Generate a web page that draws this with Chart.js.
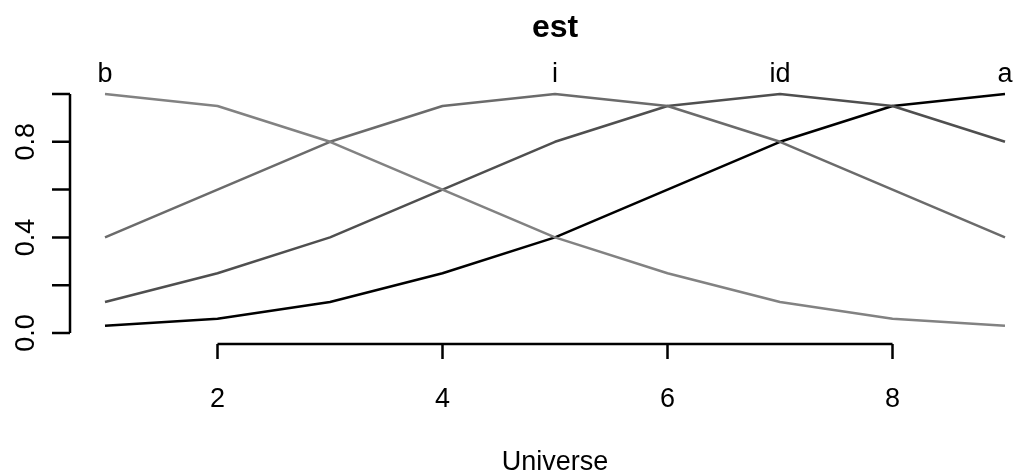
<!DOCTYPE html>
<html>
<head>
<meta charset="utf-8">
<script src="https://cdn.jsdelivr.net/npm/chart.js@4"></script>
<style>
  html, body { margin: 0; padding: 0; background: #ffffff; }
  #wrap { width: 1015px; height: 473px; }
</style>
</head>
<body>
<div id="wrap"><canvas id="est-chart" width="1015" height="473"></canvas></div>
<script>
// universe and membership grades of each fuzzy set
var universe = [1, 2, 3, 4, 5, 6, 7, 8, 9];
var setNames = ["b", "i", "id", "a"];
var setPeaks = [1, 5, 7, 9];
var bGrades = [1.0, 0.95, 0.8, 0.6, 0.4, 0.25, 0.13, 0.06, 0.03];
var iGrades = [0.4, 0.6, 0.8, 0.95, 1.0, 0.95, 0.8, 0.6, 0.4];
var idGrades = [0.13, 0.25, 0.4, 0.6, 0.8, 0.95, 1.0, 0.95, 0.8];
var aGrades = [0.03, 0.06, 0.13, 0.25, 0.4, 0.6, 0.8, 0.95, 1.0];
var setColors = ["#828282", "#6b6b6b", "#4f4f4f", "#000000"];

var xTicks = [2, 4, 6, 8];
var yTicks = [0, 0.2, 0.4, 0.6, 0.8, 1.0];
var yTickLabels = ["0.0", "", "0.4", "", "0.8", ""];

var FONT = "'Liberation Sans', Arial, Helvetica, sans-serif";

function toPoints(grades) {
    return universe.map(function (u, k) { return { x: u, y: grades[k] }; });
}

// R-style detached axes, labels and titles
var baseAxes = {
    id: "baseAxes",
    afterDraw: function (chart) {
        var ctx = chart.ctx;
        var xs = chart.scales.x;
        var ys = chart.scales.y;
        var area = chart.chartArea;
        var midX = (area.left + area.right) / 2;

        ctx.save();
        ctx.strokeStyle = "#000000";
        ctx.fillStyle = "#000000";
        ctx.lineWidth = 2.5;
        ctx.lineCap = "butt";

        // y axis
        var axX = 70;
        ctx.beginPath();
        ctx.moveTo(axX, ys.getPixelForValue(yTicks[0]));
        ctx.lineTo(axX, ys.getPixelForValue(yTicks[yTicks.length - 1]));
        yTicks.forEach(function (t) {
            var py = ys.getPixelForValue(t);
            ctx.moveTo(axX, py);
            ctx.lineTo(axX - 18, py);
        });
        ctx.stroke();

        ctx.font = "27px " + FONT;
        ctx.textAlign = "center";
        ctx.textBaseline = "alphabetic";
        yTicks.forEach(function (t, k) {
            if (!yTickLabels[k]) return;
            ctx.save();
            ctx.translate(34, ys.getPixelForValue(t));
            ctx.rotate(-Math.PI / 2);
            ctx.fillText(yTickLabels[k], 0, 0);
            ctx.restore();
        });

        // x axis
        var axY = 344;
        ctx.beginPath();
        ctx.moveTo(xs.getPixelForValue(xTicks[0]), axY);
        ctx.lineTo(xs.getPixelForValue(xTicks[xTicks.length - 1]), axY);
        xTicks.forEach(function (t) {
            var px = xs.getPixelForValue(t);
            ctx.moveTo(px, axY);
            ctx.lineTo(px, axY + 15);
        });
        ctx.stroke();

        xTicks.forEach(function (t) {
            ctx.fillText(String(t), xs.getPixelForValue(t), 407);
        });

        ctx.fillText("Universe", midX, 470);

        // set names above their peaks
        setNames.forEach(function (name, k) {
            ctx.fillText(name, xs.getPixelForValue(setPeaks[k]), 82);
        });

        ctx.font = "bold 32px " + FONT;
        ctx.fillText("est", midX, 37);
        ctx.restore();
    }
};

function lineSet(label, grades, color) {
    return {
        label: label,
        data: toPoints(grades),
        borderColor: color,
        backgroundColor: color,
        borderWidth: 2.5,
        pointRadius: 0,
        tension: 0,
        fill: false,
        clip: false,
        borderJoinStyle: "round"
    };
}

new Chart(document.getElementById("est-chart").getContext("2d"), {
    type: "line",
    data: {
        datasets: [
            lineSet(setNames[0], bGrades, setColors[0]),
            lineSet(setNames[1], iGrades, setColors[1]),
            lineSet(setNames[2], idGrades, setColors[2]),
            lineSet(setNames[3], aGrades, setColors[3])
        ]
    },
    options: {
        responsive: false,
        animation: false,
        devicePixelRatio: 1,
        layout: { padding: { left: 105, right: 10, top: 94, bottom: 140 } },
        plugins: {
            legend: { display: false },
            title: { display: false },
            tooltip: { enabled: false }
        },
        scales: {
            x: { type: "linear", min: 1, max: 9, display: false },
            y: { type: "linear", min: 0, max: 1, display: false }
        }
    },
    plugins: [baseAxes]
});
</script>
</body>
</html>
